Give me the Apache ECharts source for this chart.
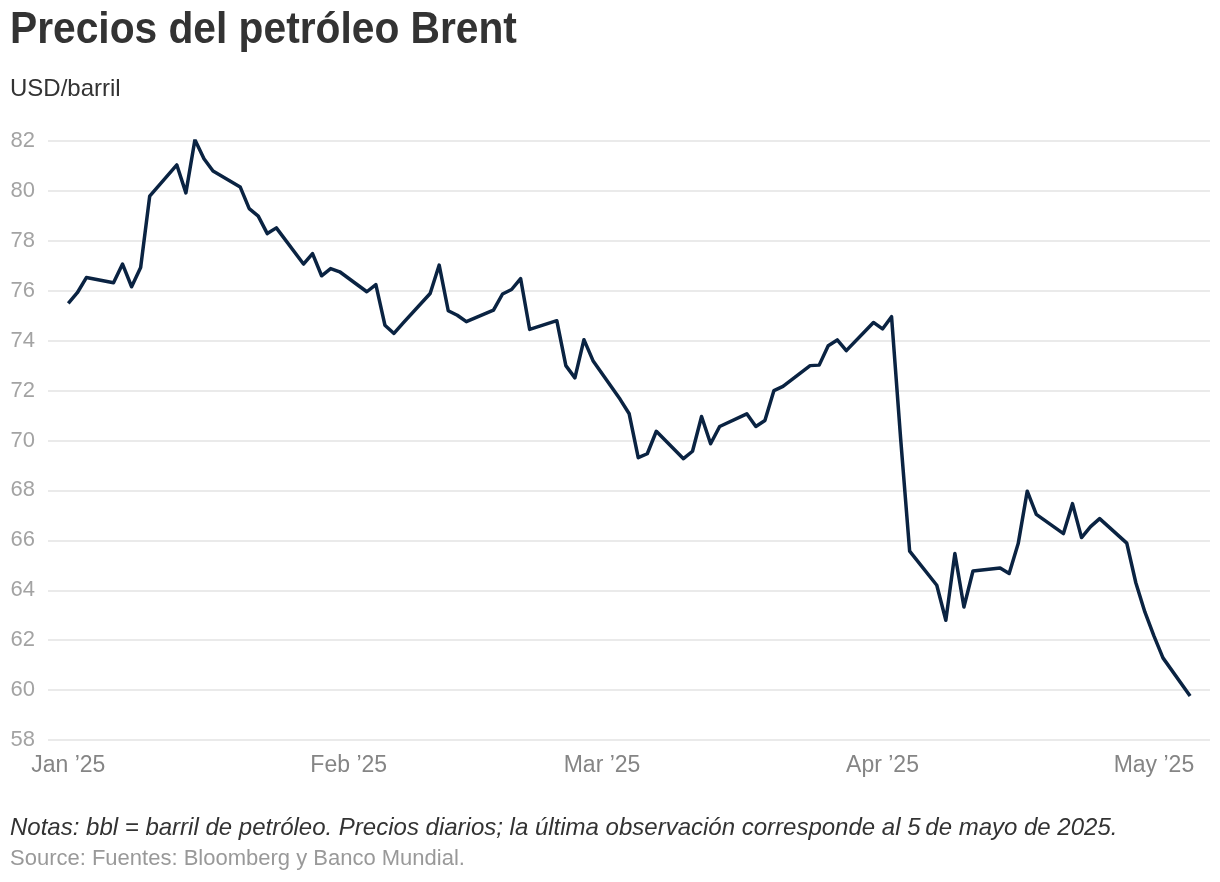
<!DOCTYPE html>
<html>
<head>
<meta charset="utf-8">
<script src="https://cdn.jsdelivr.net/npm/echarts@6/dist/echarts.min.js"></script>
<style>
html,body{margin:0;padding:0;background:#fff;}
#chart{width:1220px;height:882px;}
</style>
</head>
<body>
<div id="chart"></div>
<script>
const dates = [
"2025-01-01","2025-01-02","2025-01-03","2025-01-06","2025-01-07","2025-01-08","2025-01-09","2025-01-10",
"2025-01-13","2025-01-14","2025-01-15","2025-01-16","2025-01-17","2025-01-20","2025-01-21","2025-01-22",
"2025-01-23","2025-01-24","2025-01-27","2025-01-28","2025-01-29","2025-01-30","2025-01-31",
"2025-02-03","2025-02-04","2025-02-05","2025-02-06","2025-02-07","2025-02-10","2025-02-11","2025-02-12",
"2025-02-13","2025-02-14","2025-02-17","2025-02-18","2025-02-19","2025-02-20","2025-02-21","2025-02-24",
"2025-02-25","2025-02-26","2025-02-27","2025-02-28",
"2025-03-03","2025-03-04","2025-03-05","2025-03-06","2025-03-07","2025-03-10","2025-03-11","2025-03-12",
"2025-03-13","2025-03-14","2025-03-17","2025-03-18","2025-03-19","2025-03-20","2025-03-21","2025-03-24",
"2025-03-25","2025-03-26","2025-03-27","2025-03-28","2025-03-31",
"2025-04-01","2025-04-02","2025-04-03","2025-04-04","2025-04-07","2025-04-08","2025-04-09","2025-04-10",
"2025-04-11","2025-04-14","2025-04-15","2025-04-16","2025-04-17","2025-04-18","2025-04-21","2025-04-22",
"2025-04-23","2025-04-24","2025-04-25","2025-04-28","2025-04-29","2025-04-30",
"2025-05-01","2025-05-02","2025-05-05"
];
const prices = [
75.49,75.92,76.53,76.32,77.07,76.16,76.93,79.79,
81.04,79.92,82.05,81.29,80.80,80.16,79.29,78.99,
78.29,78.52,77.07,77.49,76.60,76.89,76.76,
75.96,76.25,74.62,74.29,74.70,75.89,77.03,75.20,
75.02,74.76,75.22,75.87,76.05,76.49,74.45,74.80,
73.00,72.51,74.04,73.20,
71.65,71.07,69.31,69.47,70.37,69.27,69.57,70.96,
69.87,70.56,71.07,70.56,70.80,72.00,72.17,73.00,
73.02,73.80,74.03,73.60,74.73,
74.47,74.96,70.10,65.57,64.20,62.80,65.47,63.33,
64.77,64.89,64.67,65.87,67.97,67.04,66.27,67.47,
66.11,66.55,66.87,65.89,64.30,63.13,
62.17,61.29,59.76
];
const tickDates = ["2025-01-01","2025-02-01","2025-03-01","2025-04-01","2025-05-01"];
const tickLabels = ["Jan \u201925","Feb \u201925","Mar \u201925","Apr \u201925","May \u201925"];
const yTicks = [58,60,62,64,66,68,70,72,74,76,78,80,82];

function ts(s){const p=s.split("-").map(Number);return Date.UTC(p[0],p[1]-1,p[2]);}
const DAY = 86400000;
const seriesData = dates.map((d,i)=>[ts(d),prices[i]]);
const tickTs = tickDates.map(ts);
const FONT = "'Liberation Sans', Arial, Helvetica, sans-serif";

const chart = echarts.init(document.getElementById('chart'), null, {renderer:'canvas'});
chart.setOption({
  animation: false,
  backgroundColor: '#ffffff',
  textStyle: {fontFamily: FONT},
  graphic: [
    {type: 'text', left: 10, top: 8, scaleX: 0.905, originX: 0,
     style: {text: 'Precios del petróleo Brent', fontSize: 45, fontWeight: 'bold', fill: '#333333', fontFamily: FONT}},
    {type: 'text', left: 10, top: 77,
     style: {text: 'USD/barril', fontSize: 24, fill: '#333333', fontFamily: FONT}},
    {type: 'text', left: 10, top: 816,
     style: {text: 'Notas: bbl = barril de petróleo. Precios diarios; la última observación corresponde al 5\u2009de mayo de 2025.', fontSize: 24, fontStyle: 'italic', fill: '#333333', fontFamily: FONT}},
    {type: 'text', left: 10, top: 848,
     style: {text: 'Source: Fuentes: Bloomberg y Banco Mundial.', fontSize: 22, fill: '#999999', fontFamily: FONT}}
  ],
  grid: {left: 48, right: 10, top: 141, bottom: 142, containLabel: false},
  xAxis: {
    type: 'value',
    min: ts("2025-01-01") - 2.24*DAY,
    max: ts("2025-01-01") + 126.2*DAY,
    axisLine: {show: false},
    axisTick: {show: false},
    splitLine: {show: false},
    axisLabel: {
      customValues: tickTs,
      showMinLabel: true,
      showMaxLabel: true,
      hideOverlap: false,
      margin: 14,
      fontSize: 23,
      color: '#858585',
      fontFamily: FONT,
      formatter: function(v){
        const i = tickTs.indexOf(v);
        return i >= 0 ? tickLabels[i] : '';
      }
    }
  },
  yAxis: {
    type: 'value',
    min: yTicks[0],
    max: yTicks[yTicks.length-1],
    interval: 2,
    axisLine: {show: false},
    axisTick: {show: false},
    axisLabel: {fontSize: 22, color: '#a3a3a3', margin: 13, fontFamily: FONT},
    splitLine: {lineStyle: {color: '#e3e3e3', width: 1.5}}
  },
  series: [{
    type: 'line',
    data: seriesData,
    showSymbol: false,
    symbol: 'none',
    lineStyle: {color: '#0a2342', width: 3.5, join: 'round'},
    itemStyle: {color: '#0a2342'}
  }]
});
</script>
</body>
</html>
